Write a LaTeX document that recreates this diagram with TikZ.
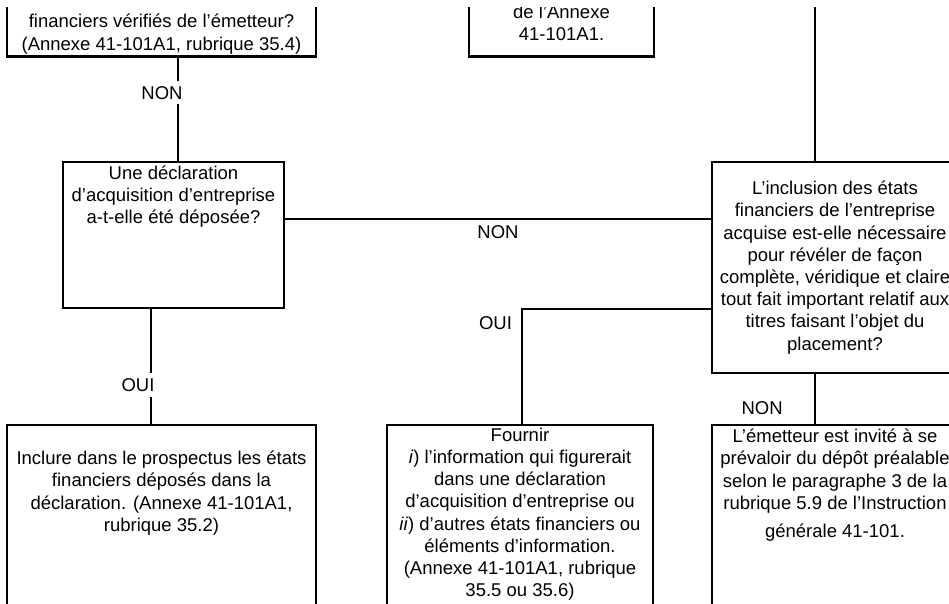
\documentclass[tikz,border=0pt]{standalone}
\usepackage{fontspec}
\setmainfont{Liberation Sans}
\usetikzlibrary{positioning}
\tikzset{sm box/.style={draw,line width=2.7pt,inner sep=0pt},
         txt/.style={align=center,inner sep=0pt,anchor=base,font=\fontsize{18.5}{22.2}\selectfont},
         lab/.style={inner sep=1pt,font=\fontsize{18.5}{22.2}\selectfont},}
\tikzstyle{link} = [line width=2.8pt]

\begin{document}
\begin{tikzpicture}[x=1pt,y=-1pt]
    \useasboundingbox (0,0) rectangle (949,604);
    \clip (0,8) rectangle (949,604);

    \node[sm box,minimum width=309pt,minimum height=117pt] (q0) at (161.5,-2) {};
    \node[sm box,minimum width=185pt,minimum height=117pt] (q1) at (561.5,-2) {};
    \node[sm box,minimum width=221pt,minimum height=146pt] (q2) at (173.5,235) {};
    \node[sm box,minimum width=246pt,minimum height=211pt] (q3) at (835,267.5) {};
    \node[sm box,minimum width=309pt,minimum height=254pt] (q4) at (161.5,552) {};
    \node[sm box,minimum width=266pt,minimum height=254pt] (q5) at (520,552) {};
    \node[sm box,minimum width=246pt,minimum height=254pt] (q6) at (835,552) {};

    \node[txt] (t0) at ([yshift=7.8pt]q0.south) {financiers vérifiés de l’émetteur?\\(Annexe 41-101A1, rubrique 35.4)};
    \node[txt] (t1) at ([yshift=17.5pt]q1.south) {de l’Annexe\\41-101A1.};
    \node[txt] (t2) at ([yshift=-62.9pt]q2.north) {Une déclaration\\d’acquisition d’entreprise\\a-t-elle été déposée?};
    \node[txt] (t3) at ([yshift=-189.5pt]q3.north) {L’inclusion des états\\financiers de l’entreprise\\acquise est-elle nécessaire\\pour révéler de façon\\complète, véridique et claire\\tout fait important relatif aux\\titres faisant l’objet du\\placement?};
    \node[txt] (t4) at ([yshift=-107.6pt]q4.north) {Inclure dans le prospectus les états\\financiers déposés dans la\\déclaration. (Annexe 41-101A1,\\rubrique 35.2)};
    \node[txt] (t5) at ([yshift=-173pt]q5.north) {Fournir\\ \textit{i}) l’information qui figurerait\\dans une déclaration\\d’acquisition d’entreprise ou\\\textit{ii}) d’autres états financiers ou\\éléments d’information.\\(Annexe 41-101A1, rubrique\\35.5 ou 35.6)};
    \node[txt] (t6) at ([yshift=-113.8pt]q6.north) {L’émetteur est invité à se\\prévaloir du dépôt préalable\\selon le paragraphe 3 de la\\rubrique 5.9 de l’Instruction\\[6pt]générale 41-101.};

    \coordinate (c1) at (815,0);

    \draw [link] ([xshift=16.5pt]q0.south) -- node[lab,fill=white,inner sep=5pt,pos=0.34,xshift=-16pt] (n1) {NON} ([xshift=16.5pt]q0.south |- q2.north);
    \draw [link] ([xshift=-22.5pt]q2.south) -- node[lab,fill=white,inner sep=5.5pt,pos=0.66,xshift=-13pt] (y1) {OUI} ([xshift=-22.5pt]q2.south |- q4.north);
    \draw [link,line width=2.2pt] ([yshift=16pt]q2.east) -- node[lab,below=4.4pt] (n2) {NON} ([yshift=16pt]q2.east -| q3.west);
    \draw [link] (c1) -- (c1 |- q3.north);
    \draw [link,line width=2.2pt] ([yshift=-41.5pt]q3.west) -| node[lab,pos=0.5,anchor=north east,xshift=-8pt,yshift=-5pt] (y2) {OUI} ([xshift=2pt]q5.north);
    \draw [link] (c1 |- q3.south) -- node[lab,pos=0.69,left=30pt] (n3) {NON} (c1 |- q6.north);

\end{tikzpicture}
\end{document}
